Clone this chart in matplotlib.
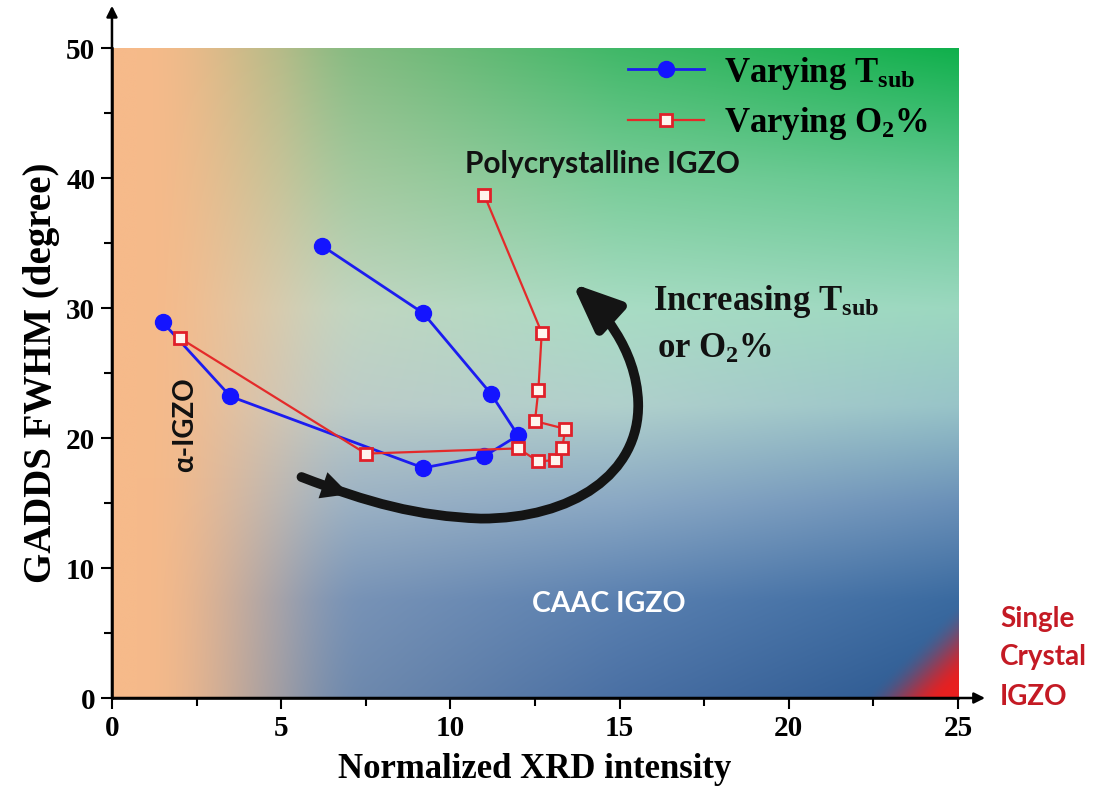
#!/usr/bin/env python3

import numpy as np
from matplotlib import pyplot as plt
from matplotlib.path import Path
from matplotlib.patches import FancyArrowPatch
import matplotlib

# varying substrate temperature
tsub_intensity = [1.5, 3.5, 9.2, 11.0, 12.0, 11.2, 9.2, 6.2]
tsub_fwhm = [28.9, 23.2, 17.7, 18.6, 20.2, 23.4, 29.6, 34.8]

# varying oxygen fraction
o2_intensity = [2.0, 7.5, 12.0, 12.6, 13.1, 13.3, 13.4, 12.5, 12.6, 12.7, 11.0]
o2_fwhm = [27.7, 18.8, 19.2, 18.2, 18.3, 19.2, 20.7, 21.3, 23.7, 28.1, 38.7]

x_ticks = [0, 5, 10, 15, 20, 25]
y_ticks = [0, 10, 20, 30, 40, 50]

# big "increasing" swoosh, cubic bezier control points in data units
swoosh = [(5.6, 17.0), (7.6, 15.0), (9.0, 14.0), (10.9, 13.8),
          (13.6, 13.8), (15.6, 17.2), (15.55, 22.7),
          (15.5, 27.0), (14.4, 30.0), (13.6, 31.9)]

SERIF = "Liberation Serif"
SANS = ["Lato", "DejaVu Sans"]

matplotlib.rcParams["font.family"] = SERIF
matplotlib.rcParams["font.weight"] = "bold"
matplotlib.rcParams["mathtext.fontset"] = "custom"
matplotlib.rcParams["mathtext.rm"] = "Liberation Serif:bold"
matplotlib.rcParams["mathtext.bf"] = "Liberation Serif:bold"
matplotlib.rcParams["mathtext.it"] = "Liberation Serif:bold:italic"


def hexrgb(h):
    h = h.lstrip("#")
    return np.array([int(h[i:i + 2], 16) / 255 for i in (0, 2, 4)])


def smoothstep(a, b, t):
    t = np.clip((t - a) / (b - a), 0, 1)
    return t * t * (3 - 2 * t)


def background(nx=420, ny=320):
    u = np.linspace(0, 1, nx)[None, :, None]
    v = np.linspace(0, 1, ny)[:, None, None]
    stops = [0, 0.15, 0.3, 0.45, 0.6, 0.8, 1.0]
    cols = {
        0.2: ["#7890b0", "#8098b8", "#a0b4c4", "#c0ccc8", "#c8d4c0", "#b0c8a0", "#98bc88"],
        0.6: ["#4a70a4", "#5a80b0", "#8aa8c4", "#b0d0cc", "#a8dcc4", "#78cc98", "#40b868"],
        1.0: ["#2a5890", "#3a6aa0", "#6a90b8", "#98c4c8", "#9cd8c0", "#60c890", "#10b04c"],
    }

    def column(key):
        c = np.array([hexrgb(h) for h in cols[key]])
        out = np.stack([np.interp(v[:, 0, 0], stops, c[:, k]) for k in range(3)], axis=-1)
        return out[:, None, :]

    left, mid, right = column(0.2), column(0.6), column(1.0)
    w1 = np.clip((u - 0.2) / 0.4, 0, 1)
    w2 = np.clip((u - 0.6) / 0.4, 0, 1)
    img = np.where(u < 0.6, left * (1 - w1) + mid * w1, mid * (1 - w2) + right * w2)

    # warm amorphous band on the left
    a = 1 - smoothstep(0.03, 0.30, u)
    img = img * (1 - a) + hexrgb("#f6ba8a") * a

    # single-crystal corner
    d = (1 - u) * 846 + v * 650
    r = 1 - smoothstep(15, 95, d)
    img = img * (1 - r) + hexrgb("#e82020") * r
    return img


def bezier(p, t):
    p = np.asarray(p)
    return ((1 - t) ** 3 * p[0] + 3 * (1 - t) ** 2 * t * p[1]
            + 3 * (1 - t) * t ** 2 * p[2] + t ** 3 * p[3])


def main():
    fig = plt.figure(figsize=(11.01, 7.95), dpi=100)
    ax = fig.add_axes([0.1017, 0.122, 0.7684, 0.8176])

    ax.imshow(background(), extent=[0, 25, 0, 50], origin="lower",
              aspect="auto", interpolation="bilinear", zorder=0)

    ax.plot(tsub_intensity, tsub_fwhm, "-o", color="#1c1cf0", lw=2,
            ms=11.5, mfc="#1414ff", mec="#1414ff", label=r"Varying T$_{\rm sub}$",
            zorder=3)
    ax.plot(o2_intensity, o2_fwhm, "-s", color="#e42a2a", lw=1.6,
            ms=8.5, mfc="#fff4ee", mec="#e0202a", mew=2,
            label=r"Varying O$_{\rm 2}$%", zorder=4)

    # swoosh arrow
    codes = [Path.MOVETO] + [Path.CURVE4] * 9
    arrow = FancyArrowPatch(path=Path(swoosh, codes),
                            arrowstyle="-|>,head_length=1.3,head_width=0.55",
                            mutation_scale=22, lw=7, color="#141414",
                            zorder=2, capstyle="round")
    ax.add_patch(arrow)
    p0 = bezier(swoosh[:4], 0.17)
    p1 = bezier(swoosh[:4], 0.25)
    ax.annotate("", xy=p1, xytext=p0,
                arrowprops=dict(arrowstyle="-|>,head_length=0.9,head_width=0.45",
                                mutation_scale=22, lw=0, color="#141414",
                                shrinkA=0, shrinkB=0), zorder=2)

    ax.set_xlim(0, 25)
    ax.set_ylim(0, 50)
    ax.set_xticks(x_ticks)
    ax.set_yticks(y_ticks)
    ax.set_xticks([t + 2.5 for t in x_ticks[:-1]], minor=True)
    ax.set_yticks([t + 5 for t in y_ticks[:-1]], minor=True)
    ax.tick_params(which="major", length=8, width=1.5, labelsize=21, pad=4)
    ax.tick_params(which="minor", length=6, width=1.5)
    for lab in ax.get_xticklabels() + ax.get_yticklabels():
        lab.set_fontweight("bold")

    for s in ("top", "right"):
        ax.spines[s].set_visible(False)
    for s in ("left", "bottom"):
        ax.spines[s].set_linewidth(1.8)

    ax.annotate("", xy=(0, 1.065), xytext=(0, 0), xycoords="axes fraction",
                arrowprops=dict(arrowstyle="-|>", color="black", lw=1.8,
                                mutation_scale=16, shrinkA=0, shrinkB=0),
                annotation_clip=False)
    ax.annotate("", xy=(1.032, 0), xytext=(0, 0), xycoords="axes fraction",
                arrowprops=dict(arrowstyle="-|>", color="black", lw=1.8,
                                mutation_scale=16, shrinkA=0, shrinkB=0),
                annotation_clip=False)

    ax.set_xlabel("Normalized XRD intensity", fontsize=25, fontweight="bold",
                  labelpad=8)
    ax.set_ylabel("GADDS FWHM (degree)", fontsize=28, fontweight="bold",
                  labelpad=4)

    ax.legend(loc="upper left", bbox_to_anchor=(0.61, 0.99), frameon=False,
              prop=dict(family=SERIF, weight="bold", size=25),
              handlelength=2.2, handletextpad=0.55, labelspacing=0.4,
              borderpad=0, borderaxespad=0, numpoints=1)

    ax.text(10.43, 40.4, "Polycrystalline IGZO", family=SANS, weight="bold",
            fontsize=21.5, color="#111111", va="baseline")
    ax.text(12.4, 6.6, "CAAC IGZO", family=SANS, weight="bold",
            fontsize=20.5, color="white", va="baseline")
    ax.text(2.15, 21.0, "\u03b1-IGZO", family=SANS, weight="bold",
            fontsize=20, color="#111111", rotation=90, ha="center", va="center")
    ax.text(16.0, 29.85, r"Increasing T$_{\rm sub}$", fontsize=25,
            fontweight="bold", color="#111111", va="baseline")
    ax.text(16.1, 26.2, r"or O$_{\rm 2}$%", fontsize=25,
            fontweight="bold", color="#111111", va="baseline")
    for y, word in zip([5.46, 2.54, -0.54], ["Single", "Crystal", "IGZO"]):
        ax.text(26.24, y, word, family=SANS, weight="bold", fontsize=20,
                color="#c41a24", va="baseline", clip_on=False)

    fig.savefig("out.png", dpi=100)


if __name__ == "__main__":
    main()
